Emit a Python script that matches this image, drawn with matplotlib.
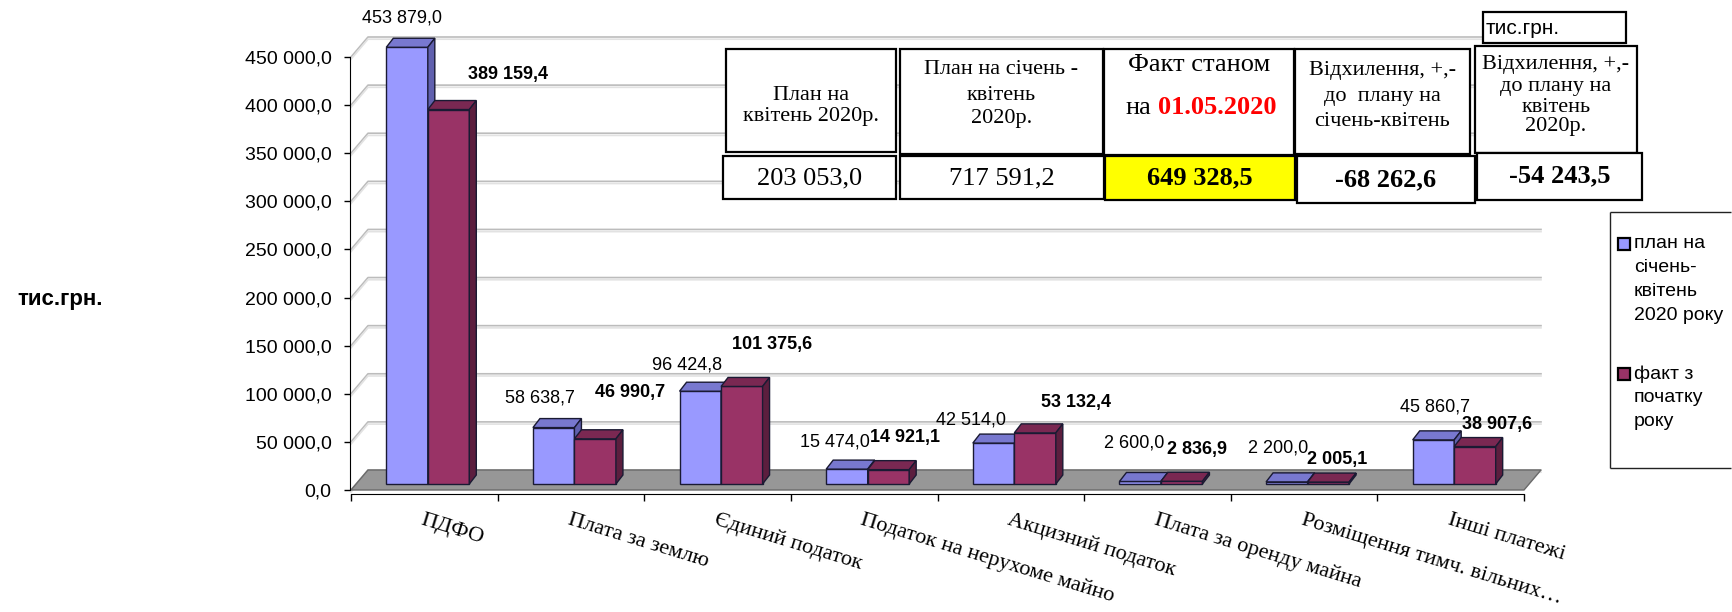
import matplotlib
matplotlib.use('Agg')
import matplotlib.pyplot as plt
from matplotlib.patches import Polygon, Rectangle
from matplotlib.lines import Line2D
import numpy as np

# ---------------- data ----------------
categories = ['ПДФО', 'Плата за землю', 'Єдиний податок', 'Податок на нерухоме майно',
              'Акцизний податок', 'Плата за оренду майна', 'Розміщення тимч. вільних…',
              'Інші платежі']
plan = [453879.0, 58638.7, 96424.8, 15474.0, 42514.0, 2600.0, 2200.0, 45860.7]
fact = [389159.4, 46990.7, 101375.6, 14921.1, 53132.4, 2836.9, 2005.1, 38907.6]
series_names = ['план на\nсічень-\nквітень\n2020 року', 'факт з\nпочатку\nроку']
y_ticks = list(range(0, 450001, 50000))
axis_unit = 'тис.грн.'

table_headers = ['План на\nквітень 2020р.',
                 'План на січень -\nквітень\n2020р.',
                 'Факт станом',
                 'Відхилення, +,-\nдо  плану на\nсічень-квітень',
                 'Відхилення, +,-\nдо плану на\nквітень\n2020р.']
fact_prefix = 'на'
fact_date = '01.05.2020'
table_values = ['203 053,0', '717 591,2', '649 328,5', '-68 262,6', '-54 243,5']
table_unit = 'тис.грн.'

# ---------------- layout / style ----------------
W, H = 1733, 612
plt.rcParams['font.family'] = ['Liberation Sans', 'DejaVu Sans']
SERIF = ['Liberation Serif', 'DejaVu Serif']
BLUE, BLUE_TOP, BLUE_SIDE = '#9999FF', '#7878CF', '#6060AE'
RED, RED_TOP, RED_SIDE = '#993366', '#7A2852', '#5C1E3E'
EDGE = '#1a1a33'

fig = plt.figure(figsize=(W / 100, H / 100), dpi=100)
ax_l, ax_r, ax_b, ax_t = 351, 1524, 490, 57
ax = fig.add_axes([ax_l / W, 1 - ax_b / H, (ax_r - ax_l) / W, (ax_b - ax_t) / H])
n = len(categories)
ax.set_xlim(0, n)
ax.set_ylim(0, 450000)
ax.patch.set_alpha(0)
PX = n / (ax_r - ax_l)          # data x per pixel
PY = 450000 / (ax_b - ax_t)     # data y per pixel

# back wall gridlines & floor
fdx, fdy = 17 * PX, 20 * PY
for v in y_ticks:
    xs = [0, fdx, n + fdx]
    ys = [v, v + fdy, v + fdy]
    ax.plot(xs, ys, color='#bcbcbc', lw=1.2, clip_on=False, zorder=1)
    ax.plot(xs, [y - 2.2 * PY for y in ys], color='#e2e2e2', lw=1.2, clip_on=False, zorder=1)
ax.add_patch(Polygon([(0, 0), (n, 0), (n + fdx, fdy), (fdx, fdy)], closed=True,
                     facecolor='#979797', edgecolor='#6a6a6a', lw=1, zorder=2, clip_on=False))

# bars (pseudo 3D)
base = 6 * PY
bw = 41.5 * PX
bdx, bdy = 7 * PX, 9 * PY
centers = np.arange(n) + 0.5
blue_left = centers - 38 * PX
red_left = centers + 3.5 * PX


def draw_series(lefts, vals, front, top, side, z):
    bars = ax.bar(lefts, vals, width=bw, bottom=base, align='edge', color=front,
                  edgecolor=EDGE, lw=1, zorder=z)
    for b in bars:
        b.set_clip_on(False)
    for x0, v in zip(lefts, vals):
        x1 = x0 + bw
        t = base + v
        ax.add_patch(Polygon([(x0, t), (x0 + bdx, t + bdy), (x1 + bdx, t + bdy), (x1, t)],
                             closed=True, facecolor=top, edgecolor=EDGE, lw=1,
                             zorder=z + 0.05, clip_on=False))
        ax.add_patch(Polygon([(x1, base), (x1 + bdx, base + bdy), (x1 + bdx, t + bdy), (x1, t)],
                             closed=True, facecolor=side, edgecolor=EDGE, lw=1,
                             zorder=z + 0.05, clip_on=False))


draw_series(blue_left, plan, BLUE, BLUE_TOP, BLUE_SIDE, 3.0)
draw_series(red_left, fact, RED, RED_TOP, RED_SIDE, 3.2)


def fmt(v):
    return f"{v:,.1f}".replace(',', ' ').replace('.', ',')


# data-label offsets (pixels from bar front-top centre; screen y down)
blue_off_x = [-5, -14, -13, -12, -23, -6, -9, 2]
blue_off_y = [-29, -30, -26, -27, -23, -38, -34, -33]
red_off_x = [59, 35, 30, 17, 41, 15, 9, 22]
red_off_y = [-35, -46, -42, -32, -30, -32, -23, -22]

for i in range(n):
    ax.annotate(fmt(plan[i]), xy=(blue_left[i] + bw / 2, base + plan[i]),
                xytext=(blue_off_x[i], -blue_off_y[i]), textcoords='offset pixels',
                ha='center', va='center', fontsize=13, annotation_clip=False, zorder=6)
    ax.annotate(fmt(fact[i]), xy=(red_left[i] + bw / 2, base + fact[i]),
                xytext=(red_off_x[i], -red_off_y[i]), textcoords='offset pixels',
                ha='center', va='center', fontsize=13, fontweight='bold',
                annotation_clip=False, zorder=6)

# axes styling
for s in ['top', 'right']:
    ax.spines[s].set_visible(False)
ax.spines['bottom'].set_position(('outward', 3))
ax.spines['left'].set_bounds(0, 450000)
ax.spines['left'].set_position(('outward', 1))
ax.set_yticks(y_ticks)
ax.set_yticklabels([fmt(v) for v in y_ticks])
ax.tick_params(axis='y', length=4, width=1, pad=9, labelsize=14)
ax.set_xticks(np.arange(n + 1))
ax.set_xticklabels([])
ax.tick_params(axis='x', which='major', length=5, width=1)
ax.set_xticks(centers, minor=True)
ax.set_xticklabels(categories, minor=True, rotation=-17, ha='left', va='top',
                   rotation_mode='anchor', fontsize=16, family=SERIF)
ax.tick_params(axis='x', which='minor', length=0, pad=12)

fig.text(17 / W, 1 - 300 / H, axis_unit, ha='left', va='center', fontsize=16, fontweight='bold')


# ---------------- table ----------------
def box(x0, y0, x1, y1, fc='white'):
    fig.add_artist(Rectangle((x0 / W, 1 - y1 / H), (x1 - x0) / W, (y1 - y0) / H,
                             transform=fig.transFigure, facecolor=fc, edgecolor='black',
                             lw=1.6, zorder=10, clip_on=False))


def ftext(x, y, s, **kw):
    kw.setdefault('family', SERIF)
    fig.text(x / W, 1 - y / H, s, zorder=11, **kw)


head_boxes = [(726, 49, 896, 152), (900, 49, 1103, 154), (1104, 49, 1294, 155),
              (1295, 49, 1470, 154), (1475, 46, 1637, 153)]
val_boxes = [(723, 156, 896, 199), (900, 156, 1104, 199), (1105, 156, 1295, 200),
             (1297, 156, 1475, 203), (1477, 153, 1642, 200)]
head_line_y = [[96, 116], [70, 96, 118], [65], [70, 96, 121], [65, 86, 107, 127]]
val_y = [178, 178, 178, 180, 176]

for k, (bx, lines_y) in enumerate(zip(head_boxes, head_line_y)):
    box(*bx)
    cx = (bx[0] + bx[2]) / 2
    for line, yy in zip(table_headers[k].split('\n'), lines_y):
        ftext(cx, yy, line, ha='center', va='center', fontsize=19 if k == 2 else 16)
ftext(1151, 108, fact_prefix, ha='right', va='center', fontsize=19)
ftext(1158, 108, fact_date, ha='left', va='center', fontsize=19, fontweight='bold',
      color='#FF0000')

for k, bx in enumerate(val_boxes):
    box(*bx, fc='#FFFF00' if k == 2 else 'white')
    ftext((bx[0] + bx[2]) / 2, val_y[k], table_values[k], ha='center', va='center',
          fontsize=19, fontweight='normal' if k < 2 else 'bold')

box(1483, 12, 1626, 43)
ftext(1486, 28, table_unit, ha='left', va='center', fontsize=15,
      family=['Liberation Sans', 'DejaVu Sans'])

# ---------------- legend (box runs off the right edge) ----------------
lx0, ly0, ly1 = 1610, 212, 468
lx1 = 1731
for xs, ys in [([lx0 / W, lx1 / W], [1 - ly0 / H] * 2),
               ([lx0 / W, lx1 / W], [1 - ly1 / H] * 2),
               ([lx0 / W] * 2, [1 - ly0 / H, 1 - ly1 / H])]:
    fig.add_artist(Line2D(xs, ys, transform=fig.transFigure, color='#222222', lw=1,
                          zorder=10.5, solid_capstyle='butt'))
leg_y0 = [244, 374]
for name, col, y0 in zip(series_names, [BLUE, RED], leg_y0):
    fig.add_artist(Rectangle((1618 / W, 1 - (y0 + 6) / H), 12 / W, 12 / H,
                             transform=fig.transFigure, facecolor=col, edgecolor='black',
                             lw=1.6, zorder=11))
    for j, line in enumerate(name.split('\n')):
        fig.text(1634 / W, 1 - (y0 + 23.8 * j) / H, line, ha='left', va='center',
                 fontsize=14, zorder=11)

fig.savefig('out.png', dpi=100)
